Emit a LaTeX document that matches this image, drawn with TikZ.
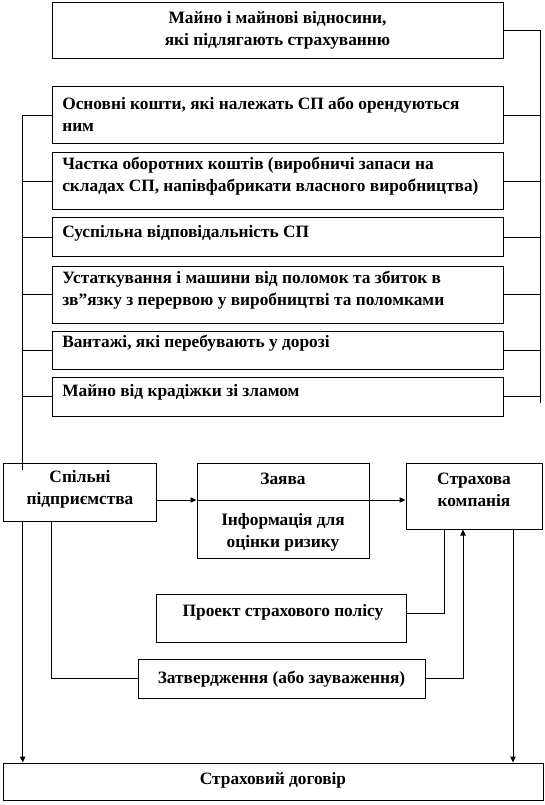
\documentclass[tikz,border=0pt]{standalone}
\usepackage{fontspec}
\setmainfont{Liberation Serif}
\usetikzlibrary{arrows.meta,fit}
\begin{document}
\begin{tikzpicture}[x=0.75pt,y=-0.75pt,
  box/.style={draw, line width=0.75pt, inner sep=0pt, fill=white},
  txt/.style={font=\bfseries\fontsize{13}{16.5}\selectfont, inner sep=0pt},
  ln/.style={line width=0.75pt},
  arr/.style={line width=0.75pt, -{Triangle[length=4.5pt,width=4pt]}}]
\useasboundingbox (0,0) rectangle (544,805);
% boxes
\node[box, fit={(52,3)(503,59)}] (top) {};
\node[box, fit={(52,87)(503,144)}] (b1) {};
\node[box, fit={(52,153)(503,210)}] (b2) {};
\node[box, fit={(52,218)(503,257)}] (b3) {};
\node[box, fit={(52,266)(503,323)}] (b4) {};
\node[box, fit={(52,331)(503,369)}] (b5) {};
\node[box, fit={(52,377)(503,416)}] (b6) {};
\node[box, fit={(3,463)(156,521)}] (sp) {};
\node[box, fit={(197,463)(369,558)}] (zy) {};
\node[box, fit={(406,463)(542,529)}] (sk) {};
\node[box, fit={(156,594)(406,642)}] (pr) {};
\node[box, fit={(138,659)(425,698)}] (zat) {};
\node[box, fit={(3,763)(543,800)}] (dog) {};
% texts
\node[txt, align=center] (t0) at (277.5,30) {Майно і майнові відносини,\\які підлягають страхуванню};
\node[txt, anchor=west, align=left] (t1) at (62,114) {Основні кошти, які належать СП або орендуються\\ним};
\node[txt, anchor=west, align=left] (t2) at (62,176.5) {Частка оборотних коштів (виробничі запаси на\\складах СП, напівфабрикати власного виробництва)};
\node[txt, anchor=west] (t3) at (62,233) {Суспільна відповідальність СП};
\node[txt, anchor=west, align=left] (t4) at (62,290) {Устаткування і машини від поломок та збиток в\\зв”язку з перервою у виробництві та поломками};
\node[txt, anchor=west] (t5) at (62,343) {Вантажі, які перебувають у дорозі};
\node[txt, anchor=west] (t6) at (62,392) {Майно від крадіжки зі зламом};
\node[txt, align=center] (tsp) at (80,489.5) {Спільні\\підприємства};
\node[txt] (tzy) at (283,479) {Заява};
\node[txt, align=center] (tinf) at (283,532.5) {Інформація для\\оцінки ризику};
\node[txt, align=center] (tsk) at (474,490) {Страхова\\компанія};
\node[txt] (tpr) at (283,612) {Проект страхового полісу};
\node[txt] (tzat) at (281.5,679) {Затвердження (або зауваження)};
\node[txt] (tdog) at (273,780) {Страховий договір};
% buses
\coordinate (rb) at (540,403);
\coordinate (lb) at (22.7,470);
\draw[ln] (top.east) -| (rb);
\draw[ln] (b1.west) -| (lb);
\foreach \b in {b1,b2,b3,b4,b5,b6} {
  \draw[ln] (\b.east) -- (\b.east -| rb);
  \draw[ln] (\b.west) -- (\b.west -| lb);
}
% flow
\coordinate (ya) at (0,500);
\draw[arr] (sp.east |- ya) -- (zy.west |- ya);
\draw[arr] (zy.west |- ya) -- (sk.west |- ya);
\draw[arr] (sp.south -| lb) -- (dog.north -| lb);
\coordinate (xa) at (51.5,0);
\draw[ln] (sp.south -| xa) |- (zat.west);
\coordinate (xb) at (463,0);
\draw[arr] (zat.east) -| (sk.south -| xb);
\coordinate (xc) at (444,613);
\draw[ln] (sk.south -| xc) -- (xc) -- (pr.east |- xc);
\coordinate (xd) at (513,0);
\draw[arr] (sk.south -| xd) -- (dog.north -| xd);
\end{tikzpicture}
\end{document}
